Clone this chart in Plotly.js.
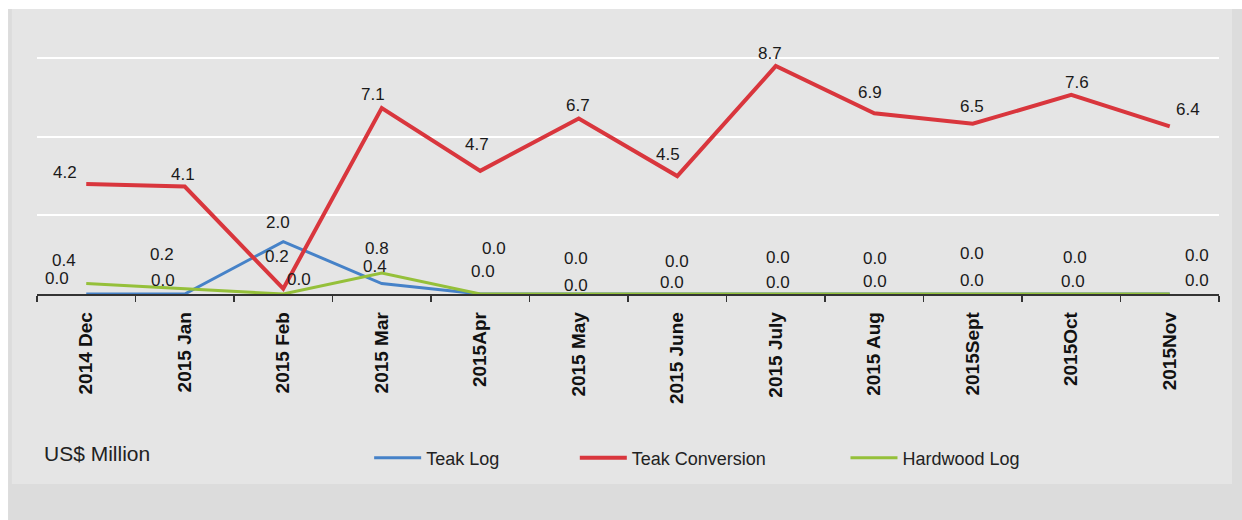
<!DOCTYPE html>
<html>
<head>
<meta charset="utf-8">
<script src="https://cdn.plot.ly/plotly-3.0.1.min.js"></script>
<style>html,body{margin:0;padding:0;background:#fff;}#chart{width:1242px;height:520px;}</style>
</head>
<body>
<div id="chart"></div>
<script>
// ---- data ----
var months = ["2014 Dec","2015 Jan","2015 Feb","2015 Mar","2015Apr","2015 May","2015 June","2015 July","2015 Aug","2015Sept","2015Oct","2015Nov"];
var teakLog        = [0.0, 0.0, 2.0, 0.4, 0.0, 0.0, 0.0, 0.0, 0.0, 0.0, 0.0, 0.0];
var teakConversion = [4.2, 4.1, 0.2, 7.1, 4.7, 6.7, 4.5, 8.7, 6.9, 6.5, 7.6, 6.4];
var hardwoodLog    = [0.4, 0.2, 0.0, 0.8, 0.0, 0.0, 0.0, 0.0, 0.0, 0.0, 0.0, 0.0];
var seriesNames = ["Teak Log","Teak Conversion","Hardwood Log"];
var unitLabel = "US$ Million";

// ---- label nudges (pixels, relative to each point) ----
var nudgeLog  = {dx:[-29,-22,-5,-7,3,-3,-5,2,1,-1,2,27], dy:[-16,-14,-19,-17,-23,-9,-12,-12,-13,-14,-13,-14]};
var nudgeConv = {dx:[-21,-2,-6,-9,-3,-1,-9,-6,-4,-1,6,18], dy:[-11,-12,-32,-13,-26,-13,-22,-13,-21,-17,-12,-17]};
var nudgeHard = {dx:[-22,-23,16,-5,14,-3,0,2,1,-1,4,27], dy:[-23,-34,-15,-25,-46,-36,-33,-37,-36,-41,-37,-39]};

var colors = ["#4682c8", "#d9363d", "#95c03a"];
var FONT = "Liberation Sans, Arial, sans-serif";

function makeLabels(vals, nudge) {
  return vals.map(function (v, i) {
    return {
      x: months[i], y: v, xref: "x", yref: "y",
      text: v.toFixed(1), showarrow: false,
      xanchor: "center", yanchor: "middle",
      xshift: nudge.dx[i], yshift: -nudge.dy[i],
      font: {family: FONT, size: 17, color: "#1a1a1a"}
    };
  });
}

var traces = [
  {x: months, y: teakLog, name: seriesNames[0], mode: "lines", type: "scatter",
   line: {color: colors[0], width: 3}, legend: "legend", hoverinfo: "x+y+name"},
  {x: months, y: teakConversion, name: seriesNames[1], mode: "lines", type: "scatter",
   line: {color: colors[1], width: 4}, legend: "legend2", hoverinfo: "x+y+name"},
  {x: months, y: hardwoodLog, name: seriesNames[2], mode: "lines", type: "scatter",
   line: {color: colors[2], width: 3}, legend: "legend3", hoverinfo: "x+y+name"}
];

var annotations = []
  .concat(makeLabels(teakLog, nudgeLog))
  .concat(makeLabels(teakConversion, nudgeConv))
  .concat(makeLabels(hardwoodLog, nudgeHard));

annotations.push({
  xref: "paper", yref: "paper", x: 0.004, y: -0.607, xanchor: "left", yanchor: "middle",
  text: unitLabel, showarrow: false, font: {family: FONT, size: 21, color: "#222"}
});

function legendAt(x) {
  return {
    x: x, y: -0.626, xanchor: "left", yanchor: "middle", orientation: "h",
    bgcolor: "rgba(0,0,0,0)", borderwidth: 0, itemwidth: 47,
    font: {family: FONT, size: 18, color: "#222"}
  };
}

var layout = {
  width: 1242, height: 520,
  margin: {l: 37, r: 23, t: 32, b: 226},
  paper_bgcolor: "#ffffff",
  plot_bgcolor: "rgba(0,0,0,0)",
  showlegend: true,
  legend: legendAt(0.281),
  legend2: legendAt(0.455),
  legend3: legendAt(0.684),
  xaxis: {
    type: "category", range: [-0.5, 11.5],
    showline: true, linecolor: "#333", linewidth: 1.5,
    ticks: "outside", tickson: "boundaries", ticklen: 6, tickcolor: "#333", tickwidth: 1.5,
    tickangle: -90, ticklabelstandoff: 9,
    tickfont: {family: FONT, size: 19, color: "#111", weight: "bold"},
    showgrid: false, zeroline: false, fixedrange: true
  },
  yaxis: {
    range: [0, 10], tick0: 0, dtick: 3,
    showticklabels: false, ticks: "",
    showgrid: true, gridcolor: "#ffffff", gridwidth: 2,
    zeroline: false, showline: false, fixedrange: true
  },
  shapes: [
    {type: "rect", xref: "paper", yref: "paper", x0: -0.0245, x1: 1.05, y0: -1.0, y1: 1.0878,
     fillcolor: "#dcdcdc", line: {width: 0}, layer: "below"},
    {type: "rect", xref: "paper", yref: "paper", x0: -0.0212, x1: 1.011, y0: -0.7252, y1: 1.0878,
     fillcolor: "#e5e5e5", line: {width: 0}, layer: "below"}
  ],
  annotations: annotations
};

Plotly.newPlot("chart", traces, layout, {displayModeBar: false, staticPlot: true});
</script>
</body>
</html>
